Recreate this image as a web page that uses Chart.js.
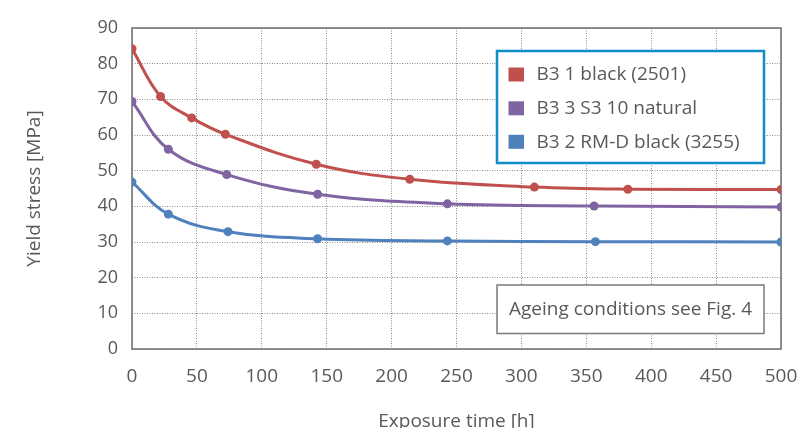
<!DOCTYPE html>
<html>
<head>
<meta charset="utf-8">
<script src="https://cdn.jsdelivr.net/npm/chart.js@4"></script>
<style>
html,body{margin:0;padding:0;background:#fff;}
#wrap{width:798px;height:428px;position:relative;}
</style>
</head>
<body>
<div id="wrap"><canvas id="c" width="798" height="428"></canvas></div>
<script>
// ---- data ----
const seriesNames = ["B3 1 black (2501)", "B3 3 S3 10 natural", "B3 2 RM-D black (3255)"];
const seriesColors = ["#C0504D", "#8064A2", "#4F81BD"];
const xRed = [0, 22, 46, 72, 142, 214, 310, 382, 500];
const yRed = [84.2, 70.8, 64.8, 60.2, 51.8, 47.6, 45.4, 44.8, 44.7];
const xPurple = [0, 28, 73, 143, 243, 356, 500];
const yPurple = [69.4, 56.0, 48.9, 43.4, 40.7, 40.1, 39.8];
const xBlue = [0, 28, 74, 143, 243, 357, 500];
const yBlue = [46.8, 37.8, 32.9, 30.9, 30.3, 30.1, 30.0];
const xTickValues = [0, 50, 100, 150, 200, 250, 300, 350, 400, 450, 500];
const yTickValues = [0, 10, 20, 30, 40, 50, 60, 70, 80, 90];
const xTitle = "Exposure time [h]";
const yTitle = "Yield stress [MPa]";
const noteText = "Ageing conditions see Fig. 4";

const FONT = "'Open Sans', sans-serif";
const TXT = "#595959";

function pts(xs, ys){ return xs.map((x,i)=>({x:x, y:ys[i]})); }

const seriesData = [pts(xRed,yRed), pts(xPurple,yPurple), pts(xBlue,yBlue)];

const boxesPlugin = {
  id: 'boxes',
  beforeDatasetsDraw(chart){
    const ctx = chart.ctx;
    const a = chart.chartArea;
    ctx.save();
    // plot frame
    ctx.strokeStyle = "#6e6e6e";
    ctx.lineWidth = 1.5;
    ctx.setLineDash([]);
    ctx.strokeRect(a.left, a.top, a.right - a.left, a.bottom - a.top);
    // legend box
    const lx = 497, ly = 51, lw = 267, lh = 112;
    ctx.fillStyle = "#fff";
    ctx.fillRect(lx, ly, lw, lh);
    ctx.strokeStyle = "#128CC8";
    ctx.lineWidth = 2.5;
    ctx.strokeRect(lx, ly, lw, lh);
    const rowY = [74.5, 108.3, 141.8];
    ctx.font = "19px " + FONT;
    ctx.textBaseline = "middle";
    ctx.textAlign = "left";
    chart.data.datasets.forEach((ds, i) => {
      ctx.fillStyle = ds.borderColor;
      ctx.fillRect(508.5, rowY[i] - 7, 15.5, 14);
      ctx.fillStyle = TXT;
      ctx.fillText(ds.label, 536.5, rowY[i] + 0.5);
    });
    // note box
    const nx = 497, ny = 285, nw = 267, nh = 48.5;
    ctx.fillStyle = "#fff";
    ctx.fillRect(nx, ny, nw, nh);
    ctx.strokeStyle = "#7a7a7a";
    ctx.lineWidth = 1.5;
    ctx.strokeRect(nx, ny, nw, nh);
    ctx.fillStyle = TXT;
    ctx.textAlign = "center";
    ctx.fillText(noteText, nx + nw/2, ny + nh/2 + 0.5);
    ctx.restore();
  }
};

new Chart(document.getElementById('c'), {
  type: 'line',
  data: {
    datasets: seriesNames.map((name, i) => ({
      label: name,
      data: seriesData[i],
      borderColor: seriesColors[i],
      backgroundColor: seriesColors[i],
      borderWidth: 3,
      pointRadius: 4.5,
      pointBorderWidth: 0,
      pointHoverRadius: 4.5,
      tension: 0.4,
      fill: false
    }))
  },
  options: {
    responsive: false,
    animation: false,
    events: [],
    layout: { padding: { top: 28, right: 17, left: 0, bottom: 0 }, autoPadding: false },
    plugins: { legend: { display: false }, tooltip: { enabled: false } },
    scales: {
      x: {
        type: 'linear', min: 0, max: 500,
        afterBuildTicks(s){ s.ticks = xTickValues.map(v => ({value: v})); },
        afterFit(s){ s.height = 79; s.paddingLeft = 0; s.paddingRight = 0; },
        ticks: { color: TXT, font: { family: FONT, size: 19 }, padding: 16, maxRotation: 0, autoSkip: false },
        grid: { color: "#8a8a8a", lineWidth: 1, drawTicks: false },
        border: { display: false, dash: [1, 1.5] },
        title: { display: true, text: xTitle, color: TXT, font: { family: FONT, size: 19, lineHeight: 1 }, padding: { top: 0, bottom: -3 } }
      },
      y: {
        type: 'linear', min: 0, max: 90,
        afterBuildTicks(s){ s.ticks = yTickValues.map(v => ({value: v})); },
        afterFit(s){ s.width = 132; s.paddingTop = 0; s.paddingBottom = 0; },
        ticks: { color: TXT, font: { family: FONT, size: 18 }, padding: 14, autoSkip: false },
        grid: { color: "#8a8a8a", lineWidth: 1, drawTicks: false },
        border: { display: false, dash: [1, 1.5] },
        title: { display: true, text: yTitle, color: TXT, font: { family: FONT, size: 19, lineHeight: 1.2 }, padding: { top: 23, bottom: 0 } }
      }
    }
  },
  plugins: [boxesPlugin]
});
</script>
</body>
</html>
